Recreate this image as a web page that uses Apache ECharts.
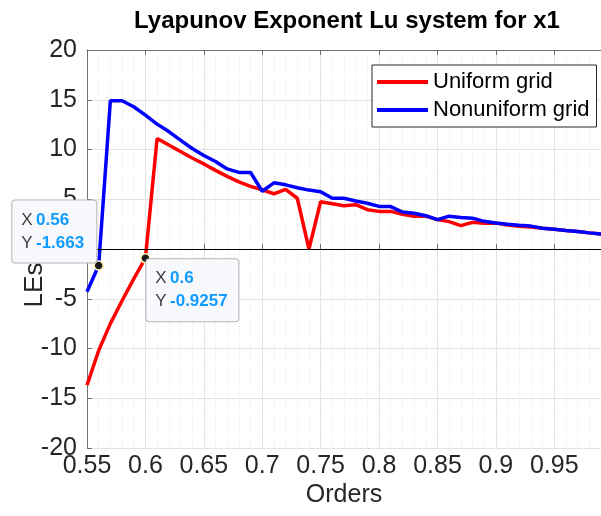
<!DOCTYPE html>
<html>
<head>
<meta charset="utf-8">
<title>Lyapunov Exponent Lu system for x1</title>
<script src="https://cdn.jsdelivr.net/npm/echarts@6/dist/echarts.min.js"></script>
<style>
  html, body { margin: 0; padding: 0; background: #ffffff; }
  #chart { width: 601px; height: 516px; }
</style>
</head>
<body>
<div id="chart"></div>
<script>
// Fractional orders (x axis)
const orders = [
  0.55, 0.56, 0.57, 0.58, 0.59, 0.60, 0.61, 0.62, 0.63, 0.64,
  0.65, 0.66, 0.67, 0.68, 0.69, 0.70, 0.71, 0.72, 0.73, 0.74,
  0.75, 0.76, 0.77, 0.78, 0.79, 0.80, 0.81, 0.82, 0.83, 0.84,
  0.85, 0.86, 0.87, 0.88, 0.89, 0.90, 0.91, 0.92, 0.93, 0.94,
  0.95, 0.96, 0.97, 0.98, 0.99
];

// Largest Lyapunov exponent, uniform grid
const uniformLE = [
  -13.7, -10.2, -7.5, -5.2, -3.0, -0.9257, 11.1, 10.45, 9.8, 9.15,
  8.55, 7.9, 7.3, 6.75, 6.3, 5.95, 5.55, 6.0, 5.1, 0.0,
  4.75, 4.55, 4.35, 4.45, 3.95, 3.78, 3.78, 3.5, 3.3, 3.3,
  2.95, 2.75, 2.35, 2.68, 2.6, 2.6, 2.42, 2.28, 2.2, 2.08,
  1.98, 1.86, 1.75, 1.62, 1.5
];

// Largest Lyapunov exponent, nonuniform grid
const nonuniformLE = [
  -4.3, -1.663, 14.9, 14.9, 14.3, 13.45, 12.55, 11.8, 10.95, 10.1,
  9.4, 8.8, 8.05, 7.7, 7.7, 5.8, 6.65, 6.45, 6.15, 5.92,
  5.76, 5.1, 5.1, 4.82, 4.6, 4.28, 4.26, 3.72, 3.6, 3.35,
  2.95, 3.3, 3.16, 3.1, 2.78, 2.62, 2.48, 2.38, 2.3, 2.08,
  1.98, 1.86, 1.75, 1.62, 1.5
];

// Annotated points: index into orders
const tipNonuniformIdx = 1;   // order 0.56
const tipUniformIdx = 5;      // order 0.6

const FONT = '"Liberation Sans", Arial, Helvetica, sans-serif';
const AXIS_COLOR = '#707070';
const TEXT_COLOR = '#262626';

function pairs(values) {
  return orders.map((x, i) => [x, values[i]]);
}

function tipLabel(x, y) {
  return '{k|X} {v|' + x + '}\n{k|Y} {v|' + y + '}';
}

const tipLabelStyle = {
  show: true,
  backgroundColor: '#f8f9fd',
  borderColor: '#b4b4b4',
  borderWidth: 1,
  borderRadius: 3,
  padding: [8, 9, 8, 9],
  lineHeight: 23,
  align: 'left',
  rich: {
    k: { color: '#404040', fontSize: 17, fontFamily: FONT, lineHeight: 23 },
    v: { color: '#0f9bff', fontSize: 17, fontWeight: 'bold', fontFamily: FONT, lineHeight: 23 }
  }
};

const tipSymbol = {
  symbol: 'circle',
  symbolSize: 9,
  itemStyle: { color: '#1a1a1a', borderColor: '#fff6b8', borderWidth: 1.5 }
};

const chart = echarts.init(document.getElementById('chart'), null, { renderer: 'canvas' });

const xMin = orders[0];
const xMax = orders[orders.length - 1];

const option = {
  animation: false,
  backgroundColor: '#ffffff',
  title: {
    text: 'Lyapunov Exponent Lu system for x1',
    left: 342,
    textAlign: 'center',
    top: 4,
    textStyle: { fontFamily: FONT, fontSize: 24, fontWeight: 'bold', color: '#000000' }
  },
  legend: {
    orient: 'vertical',
    left: 372,
    top: 65,
    padding: [6, 7, 6, 5],
    itemGap: 6,
    itemWidth: 51,
    itemHeight: 4,
    icon: 'rect',
    backgroundColor: '#ffffff',
    borderColor: '#262626',
    borderWidth: 1,
    textStyle: { fontFamily: FONT, fontSize: 22, color: '#000000', lineHeight: 22 },
    data: ['Uniform grid', 'Nonuniform grid']
  },
  grid: { left: 87, right: 0, top: 50, bottom: 68, containLabel: false, outerBoundsMode: 'none' },
  xAxis: [
    {
      type: 'value',
      position: 'bottom',
      min: xMin,
      max: xMax,
      interval: 0.05,
      name: 'Orders',
      nameLocation: 'middle',
      nameGap: 35,
      nameMoveOverlap: false,
      nameTextStyle: { fontFamily: FONT, fontSize: 25, color: TEXT_COLOR },
      axisLine: { show: true, lineStyle: { color: AXIS_COLOR, width: 1 } },
      axisTick: { show: true, inside: true, length: 5, lineStyle: { color: AXIS_COLOR } },
      axisLabel: {
        fontFamily: FONT, fontSize: 25, color: TEXT_COLOR, margin: 6,
        showMaxLabel: false
      },
      splitLine: { show: true, lineStyle: { color: '#e3e3e3', width: 1 } }
    },
    {
      type: 'value',
      position: 'top',
      min: xMin,
      max: xMax,
      interval: 0.05,
      axisLine: { show: true, lineStyle: { color: AXIS_COLOR, width: 1 } },
      axisTick: { show: true, inside: true, length: 5, lineStyle: { color: AXIS_COLOR } },
      axisLabel: { show: false },
      splitLine: { show: false }
    },
    {
      // minor grid every 0.01
      type: 'value',
      position: 'bottom',
      min: xMin,
      max: xMax,
      interval: 0.01,
      axisLine: { show: false },
      axisTick: { show: false },
      axisLabel: { show: false },
      splitLine: { show: true, lineStyle: { color: '#e6e6e6', width: 1, type: [1, 2] } }
    }
  ],
  yAxis: {
    type: 'value',
    min: -20,
    max: 20,
    interval: 5,
    name: 'LEs',
    nameLocation: 'middle',
    nameGap: 39,
    nameMoveOverlap: false,
    nameTextStyle: { fontFamily: FONT, fontSize: 26, color: TEXT_COLOR, padding: [0, 72, 0, 0] },
    axisLine: { show: true, lineStyle: { color: AXIS_COLOR, width: 1 } },
    axisTick: { show: true, inside: true, length: 5, lineStyle: { color: AXIS_COLOR } },
    axisLabel: { fontFamily: FONT, fontSize: 25, color: TEXT_COLOR, margin: 10 },
    splitLine: { show: true, lineStyle: { color: '#e3e3e3', width: 1 } }
  },
  series: [
    {
      name: 'Uniform grid',
      type: 'line',
      xAxisIndex: 0,
      data: pairs(uniformLE),
      showSymbol: false,
      symbol: 'none',
      color: '#ff0000',
      lineStyle: { color: '#ff0000', width: 3.5 },
      markLine: {
        silent: true,
        symbol: ['none', 'none'],
        label: { show: false },
        lineStyle: { color: '#000000', width: 1, type: 'solid' },
        data: [{ yAxis: 0 }]
      },
      markPoint: Object.assign({
        silent: true,
        z: 6,
        label: Object.assign({}, tipLabelStyle, {
          width: 74,
          position: [6.2, 6.3],
          verticalAlign: 'top',
          formatter: () => tipLabel(orders[tipUniformIdx], uniformLE[tipUniformIdx])
        }),
        data: [{ coord: [orders[tipUniformIdx], uniformLE[tipUniformIdx]] }]
      }, tipSymbol)
    },
    {
      name: 'Nonuniform grid',
      type: 'line',
      xAxisIndex: 0,
      data: pairs(nonuniformLE),
      showSymbol: false,
      symbol: 'none',
      color: '#0000ff',
      lineStyle: { color: '#0000ff', width: 3.5 },
      markPoint: Object.assign({
        silent: true,
        z: 6,
        label: Object.assign({}, tipLabelStyle, {
          width: 66,
          position: [2.9 - 84, 2.3],
          verticalAlign: 'bottom',
          formatter: () => tipLabel(orders[tipNonuniformIdx], nonuniformLE[tipNonuniformIdx])
        }),
        data: [{ coord: [orders[tipNonuniformIdx], nonuniformLE[tipNonuniformIdx]] }]
      }, tipSymbol)
    }
  ]
};

chart.setOption(option);
</script>
</body>
</html>
